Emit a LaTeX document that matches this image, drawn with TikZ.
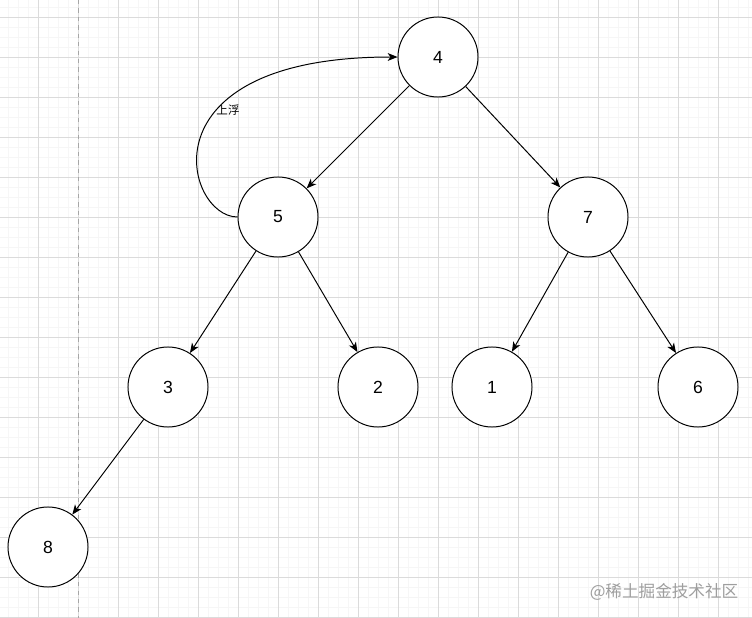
\documentclass[tikz,border=0pt]{standalone}
\usepackage{fontspec}
\setmainfont{Liberation Sans}
\newfontfamily\cjk{Noto Sans CJK SC}
\usetikzlibrary{arrows.meta}

\begin{document}
\begin{tikzpicture}[x=0.025cm,y=-0.025cm,
    heapnode/.style={circle,draw,fill=white,line width=0.7pt,minimum size=2cm,
      inner sep=0pt,font=\fontsize{12.5}{15}\selectfont},
    heaparrow/.style={line width=0.7pt,-{Stealth[length=7pt,width=5.6pt,inset=2pt]}},
    gridminor/.style={draw=black!3.5,line width=0.5pt},
    gridmajor/.style={draw=black!14,line width=0.6pt}]
  \useasboundingbox (0,0) rectangle (752,618);
  \fill[white] (0,0) rectangle (752,618);
  % background grid
  \foreach \x in {8,18,...,748} \draw[gridminor] (\x,0) -- (\x,618);
  \foreach \y in {7,17,...,617} \draw[gridminor] (0,\y) -- (752,\y);
  \foreach \x in {38,78,...,718} \draw[gridmajor] (\x,0) -- (\x,618);
  \foreach \y in {17,57,...,617} \draw[gridmajor] (0,\y) -- (752,\y);
  \draw[black!35,dashed,line width=0.6pt] (78,0) -- (78,618);
  % the heap
  \node[heapnode] (n4) at (438,57) {4};
  \node[heapnode] (n5) at (278,217) {5};
  \node[heapnode] (n7) at (588,217) {7};
  \node[heapnode] (n3) at (168,387) {3};
  \node[heapnode] (n2) at (378,387) {2};
  \node[heapnode] (n1) at (492,387) {1};
  \node[heapnode] (n6) at (698,387) {6};
  \node[heapnode] (n8) at (48,547) {8};
  \draw[heaparrow] (n4) -- (n5);
  \draw[heaparrow] (n4) -- (n7);
  \draw[heaparrow] (n5) -- (n3);
  \draw[heaparrow] (n5) -- (n2);
  \draw[heaparrow] (n7) -- (n1);
  \draw[heaparrow] (n7) -- (n6);
  \draw[heaparrow] (n3) -- (n8);
  % sift up
  \draw[heaparrow] (n5.west) .. controls (185,217) and (140,57) .. (n4.west);
  \node[font=\cjk\fontsize{8.2}{10}\selectfont] (up) at (228,110) {上浮};
  \node[text=black!38,font=\cjk\fontsize{11.8}{14}\selectfont] (mark) at (664,592) {@稀土掘金技术社区};
\end{tikzpicture}
\end{document}
